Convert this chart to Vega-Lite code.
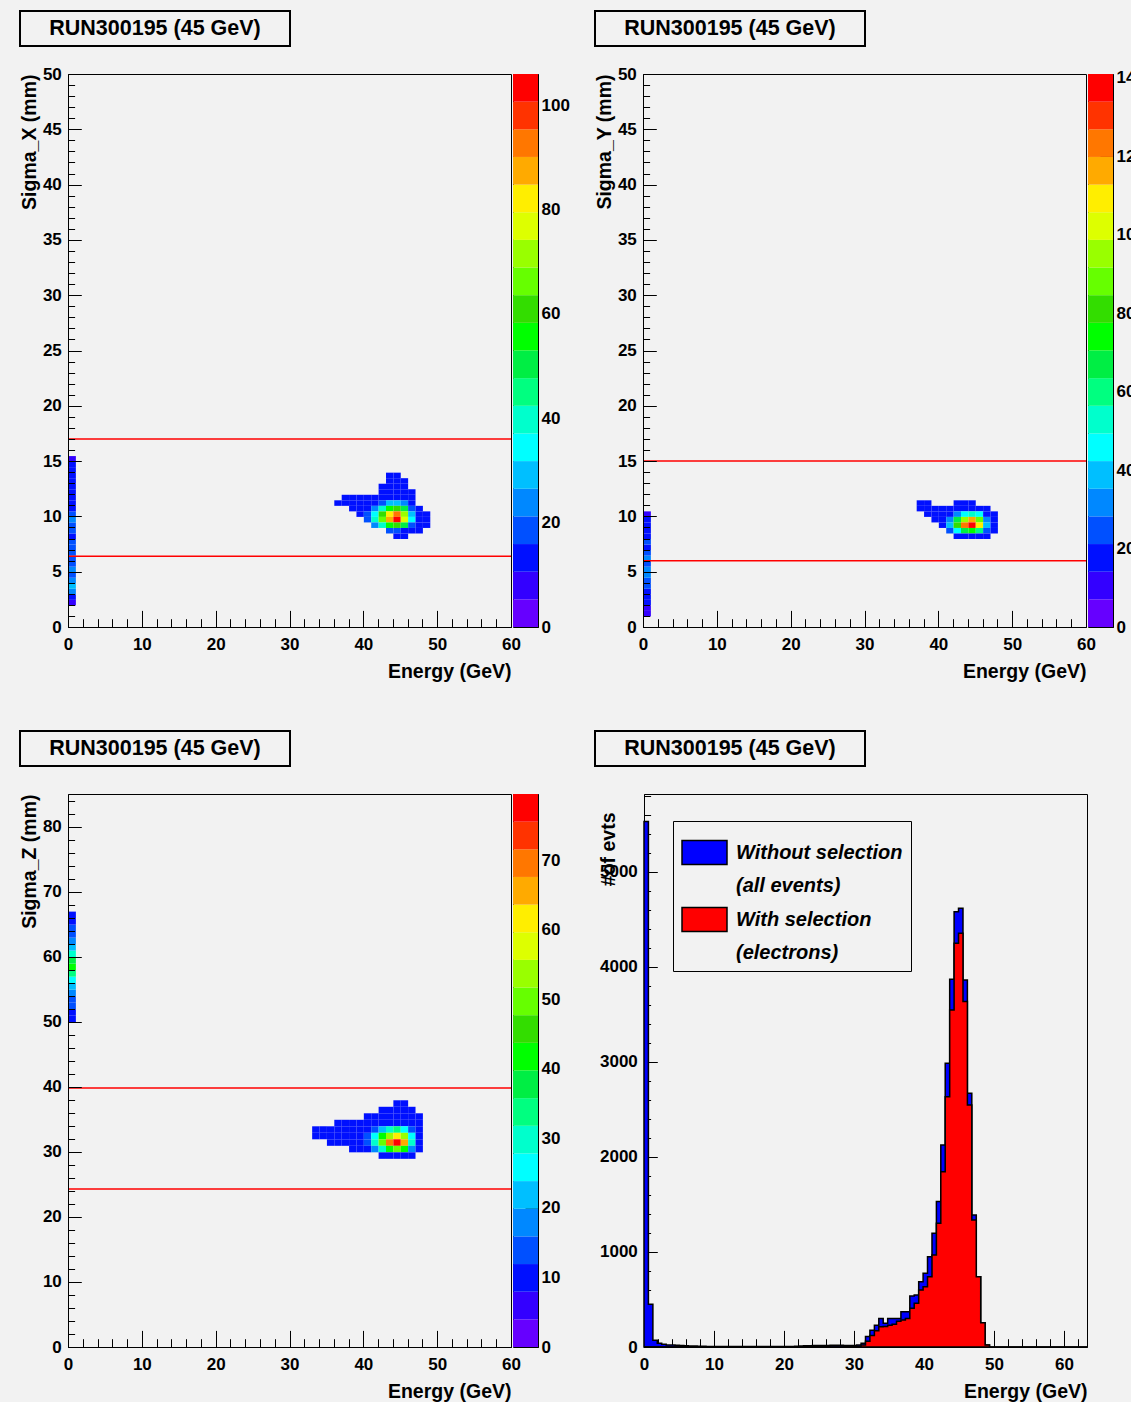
{
"$schema": "https://vega.github.io/schema/vega-lite/v6.json",
"background": "#f2f2f2",
"padding": {"left": 18, "top": 10, "right": 0, "bottom": 0},
"config": {
  "font": "Liberation Sans",
  "view": {"stroke": "black", "strokeWidth": 1},
  "axis": {"labelFont": "Liberation Sans", "labelFontSize": 17, "labelFontWeight": "bold", "labelColor": "black", "labelLineHeight": 17, "titleFont": "Liberation Sans", "titleFontSize": 19.5, "titleFontWeight": "bold", "titleColor": "black", "domainColor": "black", "tickColor": "black", "tickWidth": 1, "grid": false, "labelFlush": false, "labelOverlap": false},
  "text": {"font": "Liberation Sans", "fontSize": 21.5, "fontWeight": "bold", "color": "black"},
  "style": {"guide-label": {"lineHeight": 33}}
},
"spacing": 48,
"resolve": {"scale": {"color": "independent"}, "legend": {"color": "independent"}},
"vconcat": [
{
"spacing": 17,
"resolve": {"scale": {"color": "independent"}, "legend": {"color": "independent"}},
"vconcat": [
{
"spacing": 303,
"hconcat": [
{"width": 270, "height": 35, "view": {"stroke": "black", "strokeWidth": 2}, "data": {"values": [{"t": "RUN300195 (45 GeV)"}]}, "mark": {"type": "text"}, "encoding": {"text": {"field": "t"}}},
{"width": 270, "height": 35, "view": {"stroke": "black", "strokeWidth": 2}, "data": {"values": [{"t": "RUN300195 (45 GeV)"}]}, "mark": {"type": "text"}, "encoding": {"text": {"field": "t"}}}
]
},
{
"spacing": 23,
"resolve": {"scale": {"color": "independent"}, "legend": {"color": "independent"}},
"hconcat": [
{
"spacing": 2, "bounds": "flush",
"resolve": {"scale": {"color": "independent"}},
"hconcat": [
{"width": 46, "height": 553, "view": {"stroke": null}, "data": {"values": [{"a": 0}]}, "mark": {"type": "point", "opacity": 0}, "encoding": {}},
{
"width": 443, "height": 553,
"layer": [
{
"data": {"values": [
{"e":43,"s":13.5,"v":12},{"e":44,"s":13.5,"v":12},
{"e":43,"s":13,"v":12},{"e":44,"s":13,"v":12},{"e":45,"s":13,"v":12},
{"e":42,"s":12.5,"v":12},{"e":43,"s":12.5,"v":12},{"e":44,"s":12.5,"v":12},{"e":45,"s":12.5,"v":12},
{"e":42,"s":12,"v":12},{"e":43,"s":12,"v":12},{"e":44,"s":12,"v":12},{"e":45,"s":12,"v":12},{"e":46,"s":12,"v":12},
{"e":37,"s":11.5,"v":12},{"e":38,"s":11.5,"v":12},{"e":39,"s":11.5,"v":12},{"e":40,"s":11.5,"v":12},{"e":41,"s":11.5,"v":12},{"e":42,"s":11.5,"v":12},{"e":43,"s":11.5,"v":12},{"e":44,"s":11.5,"v":12},{"e":45,"s":11.5,"v":12},{"e":46,"s":11.5,"v":12},
{"e":36,"s":11,"v":12},{"e":37,"s":11,"v":12},{"e":38,"s":11,"v":12},{"e":39,"s":11,"v":12},{"e":40,"s":11,"v":12},{"e":41,"s":11,"v":12},{"e":42,"s":11,"v":19},{"e":43,"s":11,"v":27},{"e":44,"s":11,"v":31},{"e":45,"s":11,"v":24},{"e":46,"s":11,"v":12},
{"e":38,"s":10.5,"v":12},{"e":39,"s":10.5,"v":12},{"e":40,"s":10.5,"v":12},{"e":41,"s":10.5,"v":23},{"e":42,"s":10.5,"v":40},{"e":43,"s":10.5,"v":55},{"e":44,"s":10.5,"v":63},{"e":45,"s":10.5,"v":49},{"e":46,"s":10.5,"v":20},{"e":47,"s":10.5,"v":12},
{"e":39,"s":10,"v":12},{"e":40,"s":10,"v":17},{"e":41,"s":10,"v":35},{"e":42,"s":10,"v":60},{"e":43,"s":10,"v":83},{"e":44,"s":10,"v":94},{"e":45,"s":10,"v":73},{"e":46,"s":10,"v":30},{"e":47,"s":10,"v":12},{"e":48,"s":10,"v":12},
{"e":40,"s":9.5,"v":18},{"e":41,"s":9.5,"v":38},{"e":42,"s":9.5,"v":65},{"e":43,"s":9.5,"v":90},{"e":44,"s":9.5,"v":103},{"e":45,"s":9.5,"v":79},{"e":46,"s":9.5,"v":32},{"e":47,"s":9.5,"v":12},{"e":48,"s":9.5,"v":12},
{"e":41,"s":9,"v":23},{"e":42,"s":9,"v":40},{"e":43,"s":9,"v":55},{"e":44,"s":9,"v":63},{"e":45,"s":9,"v":49},{"e":46,"s":9,"v":20},{"e":47,"s":9,"v":12},{"e":48,"s":9,"v":12},
{"e":43,"s":8.5,"v":17},{"e":44,"s":8.5,"v":20},{"e":45,"s":8.5,"v":15},{"e":46,"s":8.5,"v":12},{"e":47,"s":8.5,"v":12},
{"e":44,"s":8,"v":12},{"e":45,"s":8,"v":12},
{"e":0,"s":2,"v":8},{"e":0,"s":2.5,"v":14},{"e":0,"s":3,"v":22},{"e":0,"s":3.5,"v":30},{"e":0,"s":4,"v":26},{"e":0,"s":4.5,"v":18},{"e":0,"s":5,"v":22},{"e":0,"s":5.5,"v":16},{"e":0,"s":6,"v":18},{"e":0,"s":6.5,"v":20},{"e":0,"s":7,"v":16},{"e":0,"s":7.5,"v":18},{"e":0,"s":8,"v":14},{"e":0,"s":8.5,"v":16},{"e":0,"s":9,"v":20},{"e":0,"s":9.5,"v":22},{"e":0,"s":10,"v":18},{"e":0,"s":10.5,"v":14},{"e":0,"s":11,"v":12},{"e":0,"s":11.5,"v":15},{"e":0,"s":12,"v":14},{"e":0,"s":12.5,"v":12},{"e":0,"s":13,"v":14},{"e":0,"s":13.5,"v":12},{"e":0,"s":14,"v":12},{"e":0,"s":14.5,"v":12},{"e":0,"s":15,"v":8}
]},
"mark": {"type": "rect"},
"encoding": {
"x": {"field": "e", "type": "quantitative", "bin": {"binned": true, "step": 1}, "title": "Energy (GeV)", "scale": {"domain": [0, 60], "nice": false, "zero": false},
 "axis": {"values": [0,2,4,6,8,10,12,14,16,18,20,22,24,26,28,30,32,34,36,38,40,42,44,46,48,50,52,54,56,58,60], "format": "d", "labelExpr": "datum.value % 10 === 0 ? datum.label : ''", "tickSize": -16.6, "tickDash": {"condition": {"test": "datum.value % 10 !== 0", "value": [8.3, 100]}, "value": [100, 0]}, "labelPadding": 26, "titlePadding": 10, "titleAnchor": "end"}},
"y": {"field": "s", "type": "quantitative", "bin": {"binned": true, "step": 0.5}, "title": "Sigma_X (mm)", "scale": {"domain": [0, 50], "nice": false, "zero": false},
 "axis": {"values": [0,1,2,3,4,5,6,7,8,9,10,11,12,13,14,15,16,17,18,19,20,21,22,23,24,25,26,27,28,29,30,31,32,33,34,35,36,37,38,39,40,41,42,43,44,45,46,47,48,49,50], "format": "d", "labelExpr": "datum.value % 5 === 0 ? datum.label : ''", "tickSize": -13.3, "tickDash": {"condition": {"test": "datum.value % 5 !== 0", "value": [6.6, 100]}, "value": [100, 0]}, "labelPadding": 20, "titlePadding": 3, "titleAnchor": "end"}},
"color": {"field": "v", "type": "quantitative", "scale": {"type": "quantize", "domain": [0, 106], "range": ["#6600ff","#3300ff","#0010ff","#0050ff","#0088ff","#00bfff","#00ffff","#00ffcc","#00ff80","#00ee44","#00ff00","#33dd00","#66ff00","#99ff00","#ddff00","#ffee00","#ffaa00","#ff7700","#ff3300","#ff0000"]}, "legend": null}
}
},
{
"data": {"values": [{"cut": 17.0}, {"cut": 6.4}]},
"mark": {"type": "rule", "color": "#ff0000", "strokeWidth": 1.5},
"encoding": {"y": {"field": "cut", "type": "quantitative", "title": "Sigma_X (mm)"}}
}
]
},
{
"width": 25, "height": 553,
"data": {"values": [
{"lo":0,"hi":5.3,"m":2.65},{"lo":5.3,"hi":10.6,"m":7.95},{"lo":10.6,"hi":15.9,"m":13.25},{"lo":15.9,"hi":21.2,"m":18.55},{"lo":21.2,"hi":26.5,"m":23.85},{"lo":26.5,"hi":31.8,"m":29.15},{"lo":31.8,"hi":37.1,"m":34.45},{"lo":37.1,"hi":42.4,"m":39.75},{"lo":42.4,"hi":47.7,"m":45.05},{"lo":47.7,"hi":53,"m":50.35},{"lo":53,"hi":58.3,"m":55.65},{"lo":58.3,"hi":63.6,"m":60.95},{"lo":63.6,"hi":68.9,"m":66.25},{"lo":68.9,"hi":74.2,"m":71.55},{"lo":74.2,"hi":79.5,"m":76.85},{"lo":79.5,"hi":84.8,"m":82.15},{"lo":84.8,"hi":90.1,"m":87.45},{"lo":90.1,"hi":95.4,"m":92.75},{"lo":95.4,"hi":100.7,"m":98.05},{"lo":100.7,"hi":106,"m":103.35}
]},
"mark": {"type": "rect"},
"encoding": {
"y": {"field": "lo", "type": "quantitative", "scale": {"domain": [0, 106], "nice": false, "zero": false}, "axis": {"orient": "right", "values": [0,20,40,60,80,100], "tickSize": -13, "labelPadding": 16, "title": null}},
"y2": {"field": "hi"},
"color": {"field": "m", "type": "quantitative", "scale": {"type": "quantize", "domain": [0, 106], "range": ["#6600ff","#3300ff","#0010ff","#0050ff","#0088ff","#00bfff","#00ffff","#00ffcc","#00ff80","#00ee44","#00ff00","#33dd00","#66ff00","#99ff00","#ddff00","#ffee00","#ffaa00","#ff7700","#ff3300","#ff0000"]}, "legend": null}
}
}
]
},
{
"spacing": 2, "bounds": "flush",
"resolve": {"scale": {"color": "independent"}},
"hconcat": [
{"width": 46, "height": 553, "view": {"stroke": null}, "data": {"values": [{"a": 0}]}, "mark": {"type": "point", "opacity": 0}, "encoding": {}},
{
"width": 443, "height": 553,
"layer": [
{
"data": {"values": [
{"e":37,"s":11,"v":16},{"e":38,"s":11,"v":16},{"e":42,"s":11,"v":16},{"e":43,"s":11,"v":16},{"e":44,"s":11,"v":16},
{"e":37,"s":10.5,"v":16},{"e":38,"s":10.5,"v":16},{"e":39,"s":10.5,"v":16},{"e":40,"s":10.5,"v":16},{"e":41,"s":10.5,"v":16},{"e":42,"s":10.5,"v":16},{"e":43,"s":10.5,"v":16},{"e":44,"s":10.5,"v":17},{"e":45,"s":10.5,"v":16},{"e":46,"s":10.5,"v":16},
{"e":38,"s":10,"v":16},{"e":39,"s":10,"v":16},{"e":40,"s":10,"v":16},{"e":41,"s":10,"v":17},{"e":42,"s":10,"v":33},{"e":43,"s":10,"v":48},{"e":44,"s":10,"v":56},{"e":45,"s":10,"v":43},{"e":46,"s":10,"v":16},{"e":47,"s":10,"v":16},
{"e":39,"s":9.5,"v":16},{"e":40,"s":9.5,"v":16},{"e":41,"s":9.5,"v":34},{"e":42,"s":9.5,"v":66},{"e":43,"s":9.5,"v":98},{"e":44,"s":9.5,"v":114},{"e":45,"s":9.5,"v":86},{"e":46,"s":9.5,"v":33},{"e":47,"s":9.5,"v":16},
{"e":40,"s":9,"v":17},{"e":41,"s":9,"v":42},{"e":42,"s":9,"v":81},{"e":43,"s":9,"v":121},{"e":44,"s":9,"v":140},{"e":45,"s":9,"v":106},{"e":46,"s":9,"v":40},{"e":47,"s":9,"v":16},
{"e":41,"s":8.5,"v":23},{"e":42,"s":8.5,"v":45},{"e":43,"s":8.5,"v":66},{"e":44,"s":8.5,"v":77},{"e":45,"s":8.5,"v":58},{"e":46,"s":8.5,"v":22},{"e":47,"s":8.5,"v":16},
{"e":42,"s":8,"v":16},{"e":43,"s":8,"v":16},{"e":44,"s":8,"v":16},{"e":45,"s":8,"v":16},{"e":46,"s":8,"v":16},
{"e":0,"s":1,"v":10},{"e":0,"s":1.5,"v":14},{"e":0,"s":2,"v":16},{"e":0,"s":2.5,"v":18},{"e":0,"s":3,"v":20},{"e":0,"s":3.5,"v":22},{"e":0,"s":4,"v":26},{"e":0,"s":4.5,"v":30},{"e":0,"s":5,"v":34},{"e":0,"s":5.5,"v":28},{"e":0,"s":6,"v":30},{"e":0,"s":6.5,"v":26},{"e":0,"s":7,"v":20},{"e":0,"s":7.5,"v":24},{"e":0,"s":8,"v":20},{"e":0,"s":8.5,"v":16},{"e":0,"s":9,"v":18},{"e":0,"s":9.5,"v":16},{"e":0,"s":10,"v":10}
]},
"mark": {"type": "rect"},
"encoding": {
"x": {"field": "e", "type": "quantitative", "bin": {"binned": true, "step": 1}, "title": "Energy (GeV)", "scale": {"domain": [0, 60], "nice": false, "zero": false},
 "axis": {"values": [0,2,4,6,8,10,12,14,16,18,20,22,24,26,28,30,32,34,36,38,40,42,44,46,48,50,52,54,56,58,60], "format": "d", "labelExpr": "datum.value % 10 === 0 ? datum.label : ''", "tickSize": -16.6, "tickDash": {"condition": {"test": "datum.value % 10 !== 0", "value": [8.3, 100]}, "value": [100, 0]}, "labelPadding": 26, "titlePadding": 10, "titleAnchor": "end"}},
"y": {"field": "s", "type": "quantitative", "bin": {"binned": true, "step": 0.5}, "title": "Sigma_Y (mm)", "scale": {"domain": [0, 50], "nice": false, "zero": false},
 "axis": {"values": [0,1,2,3,4,5,6,7,8,9,10,11,12,13,14,15,16,17,18,19,20,21,22,23,24,25,26,27,28,29,30,31,32,33,34,35,36,37,38,39,40,41,42,43,44,45,46,47,48,49,50], "format": "d", "labelExpr": "datum.value % 5 === 0 ? datum.label : ''", "tickSize": -13.3, "tickDash": {"condition": {"test": "datum.value % 5 !== 0", "value": [6.6, 100]}, "value": [100, 0]}, "labelPadding": 20, "titlePadding": 3, "titleAnchor": "end"}},
"color": {"field": "v", "type": "quantitative", "scale": {"type": "quantize", "domain": [0, 141], "range": ["#6600ff","#3300ff","#0010ff","#0050ff","#0088ff","#00bfff","#00ffff","#00ffcc","#00ff80","#00ee44","#00ff00","#33dd00","#66ff00","#99ff00","#ddff00","#ffee00","#ffaa00","#ff7700","#ff3300","#ff0000"]}, "legend": null}
}
},
{
"data": {"values": [{"cut": 15.0}, {"cut": 6.0}]},
"mark": {"type": "rule", "color": "#ff0000", "strokeWidth": 1.5},
"encoding": {"y": {"field": "cut", "type": "quantitative", "title": "Sigma_Y (mm)"}}
}
]
},
{
"width": 25, "height": 553,
"data": {"values": [
{"lo":0,"hi":7.05,"m":3.5},{"lo":7.05,"hi":14.1,"m":10.6},{"lo":14.1,"hi":21.15,"m":17.6},{"lo":21.15,"hi":28.2,"m":24.7},{"lo":28.2,"hi":35.25,"m":31.7},{"lo":35.25,"hi":42.3,"m":38.8},{"lo":42.3,"hi":49.35,"m":45.8},{"lo":49.35,"hi":56.4,"m":52.9},{"lo":56.4,"hi":63.45,"m":59.9},{"lo":63.45,"hi":70.5,"m":67},{"lo":70.5,"hi":77.55,"m":74},{"lo":77.55,"hi":84.6,"m":81.1},{"lo":84.6,"hi":91.65,"m":88.1},{"lo":91.65,"hi":98.7,"m":95.2},{"lo":98.7,"hi":105.75,"m":102.2},{"lo":105.75,"hi":112.8,"m":109.3},{"lo":112.8,"hi":119.85,"m":116.3},{"lo":119.85,"hi":126.9,"m":123.4},{"lo":126.9,"hi":133.95,"m":130.4},{"lo":133.95,"hi":141,"m":137.5}
]},
"mark": {"type": "rect"},
"encoding": {
"y": {"field": "lo", "type": "quantitative", "scale": {"domain": [0, 141], "nice": false, "zero": false}, "axis": {"orient": "right", "values": [0,20,40,60,80,100,120,140], "tickSize": -13, "labelPadding": 16, "title": null}},
"y2": {"field": "hi"},
"color": {"field": "m", "type": "quantitative", "scale": {"type": "quantize", "domain": [0, 141], "range": ["#6600ff","#3300ff","#0010ff","#0050ff","#0088ff","#00bfff","#00ffff","#00ffcc","#00ff80","#00ee44","#00ff00","#33dd00","#66ff00","#99ff00","#ddff00","#ffee00","#ffaa00","#ff7700","#ff3300","#ff0000"]}, "legend": null}
}
}
]
}
]
}
]
},
{
"spacing": 19,
"resolve": {"scale": {"color": "independent"}, "legend": {"color": "independent"}},
"vconcat": [
{
"spacing": 303,
"hconcat": [
{"width": 270, "height": 35, "view": {"stroke": "black", "strokeWidth": 2}, "data": {"values": [{"t": "RUN300195 (45 GeV)"}]}, "mark": {"type": "text"}, "encoding": {"text": {"field": "t"}}},
{"width": 270, "height": 35, "view": {"stroke": "black", "strokeWidth": 2}, "data": {"values": [{"t": "RUN300195 (45 GeV)"}]}, "mark": {"type": "text"}, "encoding": {"text": {"field": "t"}}}
]
},
{
"spacing": 35,
"resolve": {"scale": {"color": "independent"}, "legend": {"color": "independent"}},
"hconcat": [
{
"spacing": 2, "bounds": "flush",
"resolve": {"scale": {"color": "independent"}},
"hconcat": [
{"width": 46, "height": 553, "view": {"stroke": null}, "data": {"values": [{"a": 0}]}, "mark": {"type": "point", "opacity": 0}, "encoding": {}},
{
"width": 443, "height": 553,
"layer": [
{
"data": {"values": [
{"e":44,"s":37,"v":9},{"e":45,"s":37,"v":9},
{"e":42,"s":36,"v":9},{"e":43,"s":36,"v":9},{"e":44,"s":36,"v":9},{"e":45,"s":36,"v":9},{"e":46,"s":36,"v":9},
{"e":40,"s":35,"v":9},{"e":41,"s":35,"v":9},{"e":42,"s":35,"v":9},{"e":43,"s":35,"v":9},{"e":44,"s":35,"v":9},{"e":45,"s":35,"v":9},{"e":46,"s":35,"v":9},{"e":47,"s":35,"v":9},
{"e":36,"s":34,"v":9},{"e":37,"s":34,"v":9},{"e":38,"s":34,"v":9},{"e":39,"s":34,"v":9},{"e":40,"s":34,"v":9},{"e":41,"s":34,"v":9},{"e":42,"s":34,"v":9},{"e":43,"s":34,"v":9},{"e":44,"s":34,"v":10.6},{"e":45,"s":34,"v":9},{"e":46,"s":34,"v":9},{"e":47,"s":34,"v":9},
{"e":33,"s":33,"v":9},{"e":34,"s":33,"v":9},{"e":35,"s":33,"v":9},{"e":36,"s":33,"v":9},{"e":37,"s":33,"v":9},{"e":38,"s":33,"v":9},{"e":39,"s":33,"v":9},{"e":40,"s":33,"v":9},{"e":41,"s":33,"v":12.3},{"e":42,"s":33,"v":20.5},{"e":43,"s":33,"v":28},{"e":44,"s":33,"v":32},{"e":45,"s":33,"v":27},{"e":46,"s":33,"v":12.5},{"e":47,"s":33,"v":9},
{"e":33,"s":32,"v":9},{"e":34,"s":32,"v":9},{"e":35,"s":32,"v":9},{"e":36,"s":32,"v":9},{"e":37,"s":32,"v":9},{"e":38,"s":32,"v":9},{"e":39,"s":32,"v":9},{"e":40,"s":32,"v":12},{"e":41,"s":32,"v":24},{"e":42,"s":32,"v":40},{"e":43,"s":32,"v":55},{"e":44,"s":32,"v":63},{"e":45,"s":32,"v":52},{"e":46,"s":32,"v":24},{"e":47,"s":32,"v":9},
{"e":35,"s":31,"v":9},{"e":36,"s":31,"v":9},{"e":37,"s":31,"v":9},{"e":38,"s":31,"v":9},{"e":39,"s":31,"v":9},{"e":40,"s":31,"v":15},{"e":41,"s":31,"v":30},{"e":42,"s":31,"v":50},{"e":43,"s":31,"v":69},{"e":44,"s":31,"v":79},{"e":45,"s":31,"v":65},{"e":46,"s":31,"v":30},{"e":47,"s":31,"v":9},
{"e":38,"s":30,"v":9},{"e":39,"s":30,"v":9},{"e":40,"s":30,"v":9},{"e":41,"s":30,"v":18},{"e":42,"s":30,"v":30},{"e":43,"s":30,"v":42},{"e":44,"s":30,"v":48},{"e":45,"s":30,"v":40},{"e":46,"s":30,"v":18.5},{"e":47,"s":30,"v":9},
{"e":42,"s":29,"v":9},{"e":43,"s":29,"v":9},{"e":44,"s":29,"v":10.6},{"e":45,"s":29,"v":9},{"e":46,"s":29,"v":9},
{"e":0,"s":50,"v":8},{"e":0,"s":51,"v":10},{"e":0,"s":52,"v":12},{"e":0,"s":53,"v":14},{"e":0,"s":54,"v":16},{"e":0,"s":55,"v":20},{"e":0,"s":56,"v":26},{"e":0,"s":57,"v":34},{"e":0,"s":58,"v":42},{"e":0,"s":59,"v":36},{"e":0,"s":60,"v":28},{"e":0,"s":61,"v":22},{"e":0,"s":62,"v":16},{"e":0,"s":63,"v":14},{"e":0,"s":64,"v":12},{"e":0,"s":65,"v":10},{"e":0,"s":66,"v":8}
]},
"mark": {"type": "rect"},
"encoding": {
"x": {"field": "e", "type": "quantitative", "bin": {"binned": true, "step": 1}, "title": "Energy (GeV)", "scale": {"domain": [0, 60], "nice": false, "zero": false},
 "axis": {"values": [0,2,4,6,8,10,12,14,16,18,20,22,24,26,28,30,32,34,36,38,40,42,44,46,48,50,52,54,56,58,60], "format": "d", "labelExpr": "datum.value % 10 === 0 ? datum.label : ''", "tickSize": -16.6, "tickDash": {"condition": {"test": "datum.value % 10 !== 0", "value": [8.3, 100]}, "value": [100, 0]}, "labelPadding": 26, "titlePadding": 10, "titleAnchor": "end"}},
"y": {"field": "s", "type": "quantitative", "bin": {"binned": true, "step": 1}, "title": "Sigma_Z (mm)", "scale": {"domain": [0, 85], "nice": false, "zero": false},
 "axis": {"values": [0,2,4,6,8,10,12,14,16,18,20,22,24,26,28,30,32,34,36,38,40,42,44,46,48,50,52,54,56,58,60,62,64,66,68,70,72,74,76,78,80,82,84], "format": "d", "labelExpr": "datum.value % 10 === 0 ? datum.label : ''", "tickSize": -13.3, "tickDash": {"condition": {"test": "datum.value % 10 !== 0", "value": [6.6, 100]}, "value": [100, 0]}, "labelPadding": 20, "titlePadding": 3, "titleAnchor": "end"}},
"color": {"field": "v", "type": "quantitative", "scale": {"type": "quantize", "domain": [0, 79.5], "range": ["#6600ff","#3300ff","#0010ff","#0050ff","#0088ff","#00bfff","#00ffff","#00ffcc","#00ff80","#00ee44","#00ff00","#33dd00","#66ff00","#99ff00","#ddff00","#ffee00","#ffaa00","#ff7700","#ff3300","#ff0000"]}, "legend": null}
}
},
{
"data": {"values": [{"cut": 39.8}, {"cut": 24.3}]},
"mark": {"type": "rule", "color": "#ff0000", "strokeWidth": 1.5},
"encoding": {"y": {"field": "cut", "type": "quantitative", "title": "Sigma_Z (mm)"}}
}
]
},
{
"width": 25, "height": 553,
"data": {"values": [
{"lo":0,"hi":3.975,"m":2},{"lo":3.975,"hi":7.95,"m":6},{"lo":7.95,"hi":11.925,"m":9.9},{"lo":11.925,"hi":15.9,"m":13.9},{"lo":15.9,"hi":19.875,"m":17.9},{"lo":19.875,"hi":23.85,"m":21.9},{"lo":23.85,"hi":27.825,"m":25.8},{"lo":27.825,"hi":31.8,"m":29.8},{"lo":31.8,"hi":35.775,"m":33.8},{"lo":35.775,"hi":39.75,"m":37.8},{"lo":39.75,"hi":43.725,"m":41.7},{"lo":43.725,"hi":47.7,"m":45.7},{"lo":47.7,"hi":51.675,"m":49.7},{"lo":51.675,"hi":55.65,"m":53.7},{"lo":55.65,"hi":59.625,"m":57.6},{"lo":59.625,"hi":63.6,"m":61.6},{"lo":63.6,"hi":67.575,"m":65.6},{"lo":67.575,"hi":71.55,"m":69.6},{"lo":71.55,"hi":75.525,"m":73.5},{"lo":75.525,"hi":79.5,"m":77.5}
]},
"mark": {"type": "rect"},
"encoding": {
"y": {"field": "lo", "type": "quantitative", "scale": {"domain": [0, 79.5], "nice": false, "zero": false}, "axis": {"orient": "right", "values": [0,10,20,30,40,50,60,70], "tickSize": -13, "labelPadding": 16, "title": null}},
"y2": {"field": "hi"},
"color": {"field": "m", "type": "quantitative", "scale": {"type": "quantize", "domain": [0, 79.5], "range": ["#6600ff","#3300ff","#0010ff","#0050ff","#0088ff","#00bfff","#00ffff","#00ffcc","#00ff80","#00ee44","#00ff00","#33dd00","#66ff00","#99ff00","#ddff00","#ffee00","#ffaa00","#ff7700","#ff3300","#ff0000"]}, "legend": null}
}
}
]
},
{
"spacing": 2, "bounds": "flush",
"resolve": {"scale": {"color": "independent"}, "legend": {"color": "independent"}},
"hconcat": [
{"width": 46, "height": 553, "view": {"stroke": null}, "data": {"values": [{"a": 0}]}, "mark": {"type": "point", "opacity": 0}, "encoding": {}},
{
"width": 443, "height": 553,
"data": {"values": [
{"e":0,"all":5530,"sel":0},{"e":0.63,"all":450,"sel":0},{"e":1.27,"all":70,"sel":0},{"e":1.9,"all":40,"sel":0},{"e":2.53,"all":30,"sel":0},{"e":3.17,"all":20,"sel":0},{"e":3.8,"all":20,"sel":0},{"e":4.43,"all":18,"sel":0},{"e":5.06,"all":15,"sel":0},{"e":5.7,"all":12,"sel":0},
{"e":6.33,"all":10,"sel":0},{"e":6.96,"all":10,"sel":0},{"e":7.6,"all":8,"sel":0},{"e":8.23,"all":8,"sel":0},{"e":8.86,"all":6,"sel":0},{"e":9.5,"all":6,"sel":0},{"e":10.13,"all":6,"sel":0},{"e":10.76,"all":5,"sel":0},{"e":11.39,"all":5,"sel":0},{"e":12.03,"all":5,"sel":0},
{"e":12.66,"all":5,"sel":0},{"e":13.29,"all":5,"sel":0},{"e":13.93,"all":5,"sel":0},{"e":14.56,"all":5,"sel":0},{"e":15.19,"all":4,"sel":0},{"e":15.83,"all":4,"sel":0},{"e":16.46,"all":4,"sel":0},{"e":17.09,"all":4,"sel":0},{"e":17.72,"all":5,"sel":0},{"e":18.36,"all":5,"sel":0},
{"e":18.99,"all":5,"sel":0},{"e":19.62,"all":5,"sel":0},{"e":20.26,"all":6,"sel":0},{"e":20.89,"all":6,"sel":0},{"e":21.52,"all":8,"sel":0},{"e":22.16,"all":10,"sel":0},{"e":22.79,"all":12,"sel":0},{"e":23.42,"all":14,"sel":0},{"e":24.05,"all":15,"sel":0},{"e":24.69,"all":16,"sel":0},
{"e":25.32,"all":16,"sel":0},{"e":25.95,"all":16,"sel":0},{"e":26.59,"all":18,"sel":0},{"e":27.22,"all":18,"sel":0},{"e":27.85,"all":18,"sel":0},{"e":28.49,"all":15,"sel":0},{"e":29.12,"all":15,"sel":0},{"e":29.75,"all":15,"sel":0},{"e":30.38,"all":20,"sel":8},{"e":31.02,"all":40,"sel":20},
{"e":31.65,"all":110,"sel":60},{"e":32.28,"all":175,"sel":120},{"e":32.92,"all":230,"sel":170},{"e":33.55,"all":300,"sel":214},{"e":34.18,"all":250,"sel":215},{"e":34.82,"all":300,"sel":230},{"e":35.45,"all":300,"sel":240},{"e":36.08,"all":300,"sel":270},{"e":36.71,"all":370,"sel":285},{"e":37.35,"all":372,"sel":300},
{"e":37.98,"all":537,"sel":407},{"e":38.61,"all":547,"sel":460},{"e":39.25,"all":687,"sel":600},{"e":39.88,"all":776,"sel":635},{"e":40.51,"all":951,"sel":740},{"e":41.15,"all":1197,"sel":968},{"e":41.78,"all":1530,"sel":1302},{"e":42.41,"all":2126,"sel":1845},{"e":43.04,"all":2986,"sel":2635},{"e":43.68,"all":3870,"sel":3547},
{"e":44.31,"all":4582,"sel":4249},{"e":44.94,"all":4618,"sel":4354},{"e":45.58,"all":3863,"sel":3635},{"e":46.21,"all":2670,"sel":2547},{"e":46.84,"all":1389,"sel":1337},{"e":47.48,"all":740,"sel":740},{"e":48.11,"all":256,"sel":256},{"e":48.74,"all":21,"sel":21},{"e":49.37,"all":0,"sel":0},{"e":63.3,"all":0,"sel":0}
]},
"layer": [
{
"mark": {"type": "area", "interpolate": "step-after", "stroke": "black", "strokeWidth": 1.5, "fillOpacity": 1},
"encoding": {
"x": {"field": "e", "type": "quantitative", "title": "Energy (GeV)", "scale": {"domain": [0, 63.3], "nice": false, "zero": false},
 "axis": {"values": [0,2,4,6,8,10,12,14,16,18,20,22,24,26,28,30,32,34,36,38,40,42,44,46,48,50,52,54,56,58,60,62], "tickCount": 100, "format": "d", "labelExpr": "datum.value % 10 === 0 ? datum.label : ''", "tickSize": -16.6, "tickDash": {"condition": {"test": "datum.value % 10 !== 0", "value": [8.3, 100]}, "value": [100, 0]}, "labelPadding": 26, "titlePadding": 10, "titleAnchor": "end"}},
"y": {"field": "all", "type": "quantitative", "stack": null, "title": "#of evts", "scale": {"domain": [0, 5820], "nice": false},
 "axis": {"values": [0,200,400,600,800,1000,1200,1400,1600,1800,2000,2200,2400,2600,2800,3000,3200,3400,3600,3800,4000,4200,4400,4600,4800,5000,5200,5400,5600,5800], "tickCount": 100, "format": "d", "labelExpr": "datum.value % 1000 === 0 ? datum.label : ''", "tickSize": -13.3, "tickDash": {"condition": {"test": "datum.value % 1000 !== 0", "value": [6.6, 100]}, "value": [100, 0]}, "labelPadding": 20, "titlePadding": -19, "titleAnchor": "end", "titleY": 18}},
"color": {"datum": "Without selection", "type": "nominal", "scale": {"domain": ["Without selection", "With selection"], "range": ["#0000ff", "#ff0000"]},
 "legend": {"orient": "none", "legendX": 29, "legendY": 27, "title": null, "symbolType": "M-1,-0.53H1V0.53H-1Z", "symbolSize": 2025, "symbolStrokeColor": "black", "symbolStrokeWidth": 1.5, "symbolOpacity": 1, "labelFont": "Liberation Sans", "labelFontSize": 20, "labelFontWeight": "bold", "labelFontStyle": "italic", "labelColor": "black", "labelLimit": 400, "labelOffset": 8, "labelExpr": "datum.label == 'Without selection' ? ['Without selection', '(all events)'] : ['With selection', '(electrons)']", "strokeColor": "black", "fillColor": "#f2f2f2", "padding": 8, "rowPadding": -2}}
}
},
{
"mark": {"type": "area", "interpolate": "step-after", "stroke": "black", "strokeWidth": 1.5, "fillOpacity": 1},
"encoding": {
"x": {"field": "e", "type": "quantitative", "title": "Energy (GeV)"},
"y": {"field": "sel", "type": "quantitative", "stack": null, "title": "#of evts"},
"color": {"datum": "With selection", "type": "nominal"}
}
}
]
}
]
}
]
}
]
}
]
}
